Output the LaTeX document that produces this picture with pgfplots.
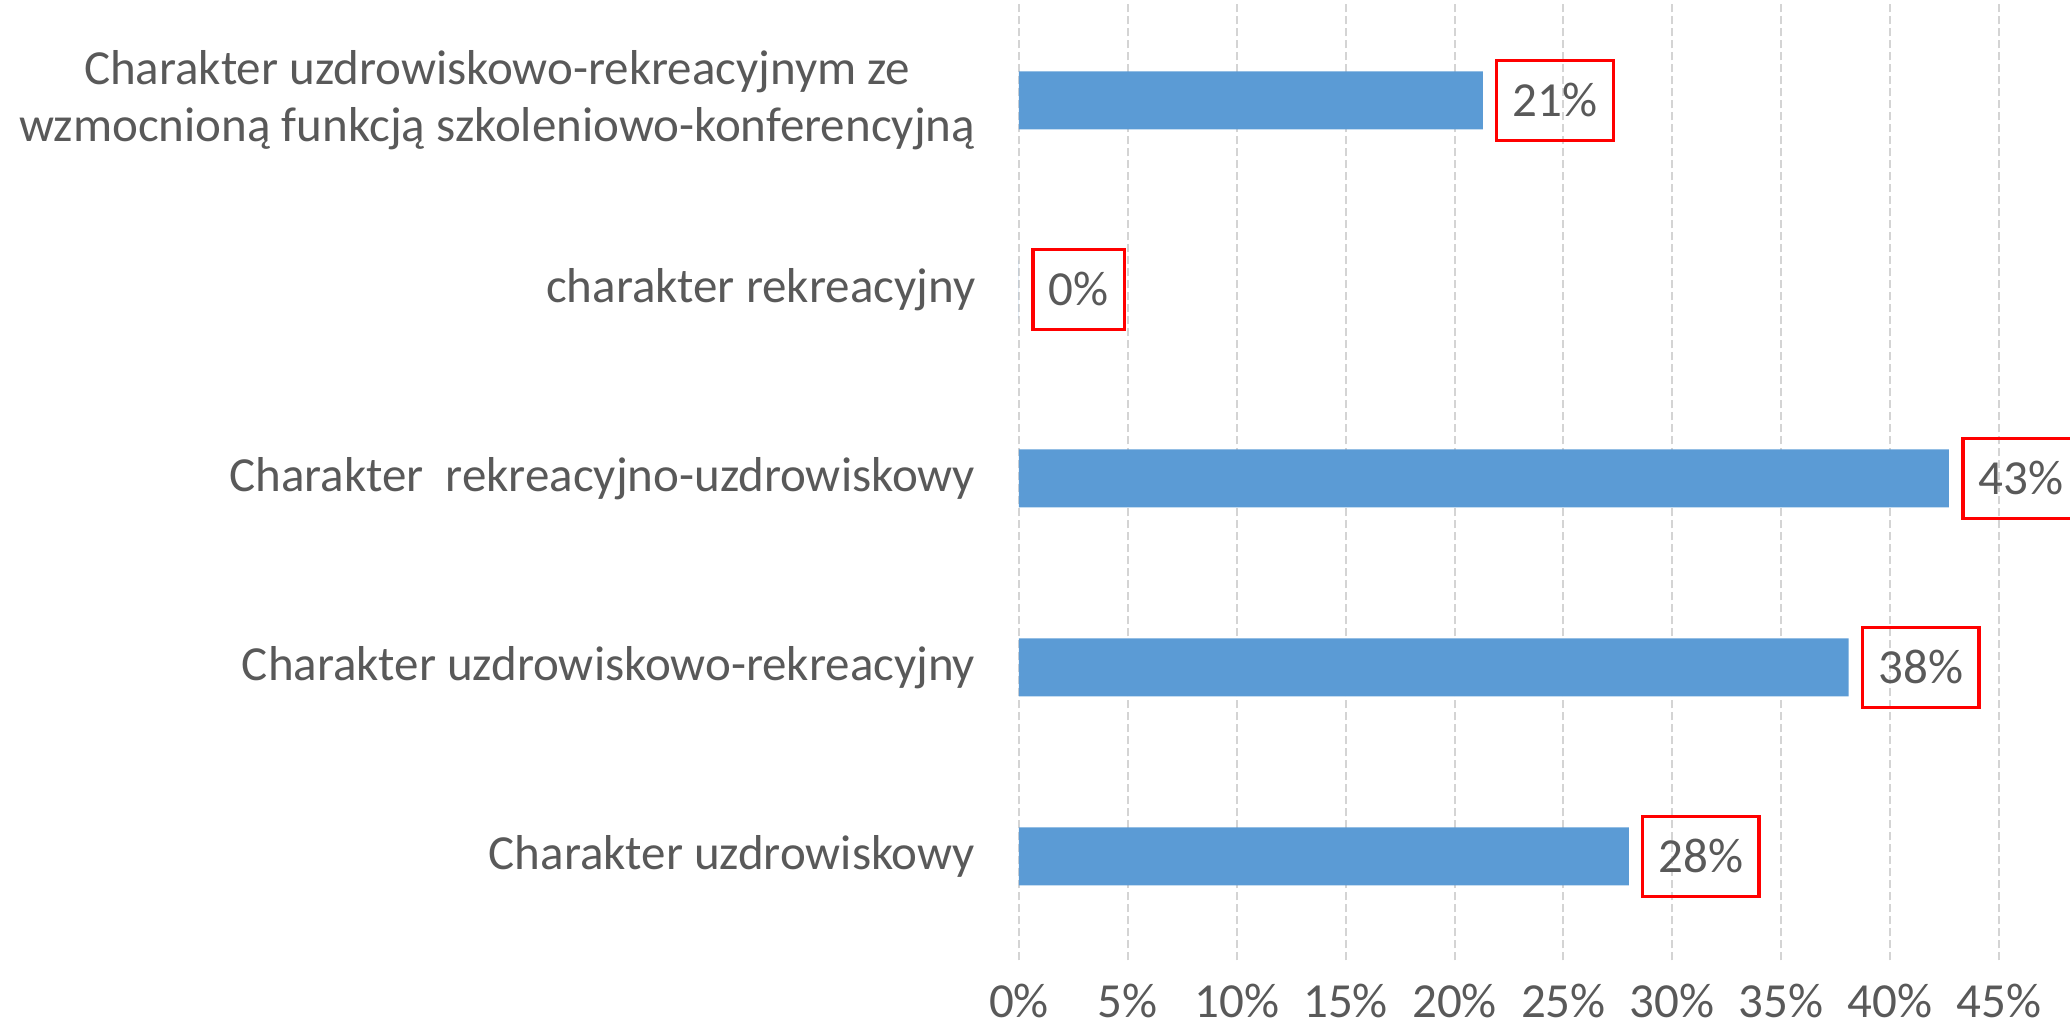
\documentclass[border=0pt]{standalone}
\usepackage{pgfplots}
\pgfplotsset{compat=1.18}
\usepackage{fontspec}
\setmainfont{Carlito}
\definecolor{barblue}{HTML}{5B9BD5}
\definecolor{txtgray}{HTML}{595959}
\definecolor{gridgray}{HTML}{D4D4D4}

\begin{document}
\fontsize{12.25}{14.25}\selectfont
\begin{tikzpicture}
  \begin{axis}[
      xbar,
      x=5.445pt, y=47.25pt,
      xmin=0, xmax=48.26,
      ymin=-0.55, ymax=4.51,
      bar width=14.5pt,
      axis line style={draw=none},
      tick style={draw=none},
      xtick={0,5,...,45},
      xmajorgrids,
      grid style={gridgray, line width=0.5pt, dash pattern=on 2pt off 1pt},
      /pgf/number format/assume math mode=true,
      /pgf/number format/fixed,
      /pgf/number format/precision=0,
      xticklabel={\pgfmathprintnumber{\tick}\%},
      xticklabel style={text=txtgray, font=\fontsize{12.25}{14.25}\selectfont, inner sep=0pt, yshift=-5.75pt},
      ytick={0,1,2,3,4},
      yticklabels={
        Charakter uzdrowiskowy,
        Charakter uzdrowiskowo-rekreacyjny,
        Charakter~~rekreacyjno-uzdrowiskowy,
        charakter rekreacyjny,
        {Charakter uzdrowiskowo-rekreacyjnym ze\\wzmocnioną funkcją szkoleniowo-konferencyjną}
      },
      yticklabel style={text=txtgray, align=center, font=\fontsize{12.25}{14.25}\selectfont, inner sep=0pt, xshift=-6.5pt},
      nodes near coords={\pgfmathprintnumber{\pgfplotspointmeta}\%},
      nodes near coords style={anchor=west, xshift=3pt, draw=red, line width=0.9pt,
        text=txtgray, inner xsep=4pt, minimum height=20pt,
        font=\fontsize{12.25}{14.25}\selectfont},
      clip=false,
    ]
    \addplot[fill=barblue, draw=none] coordinates {
      (28.0,0) (38.1,1) (42.7,2) (0,3) (21.3,4)
    };
  \end{axis}
  \pgfresetboundingbox
  \useasboundingbox ([xshift=-254.75pt, yshift=-17pt]current axis.south west)
    rectangle ([yshift=1pt]current axis.north east);
\end{tikzpicture}
\end{document}
